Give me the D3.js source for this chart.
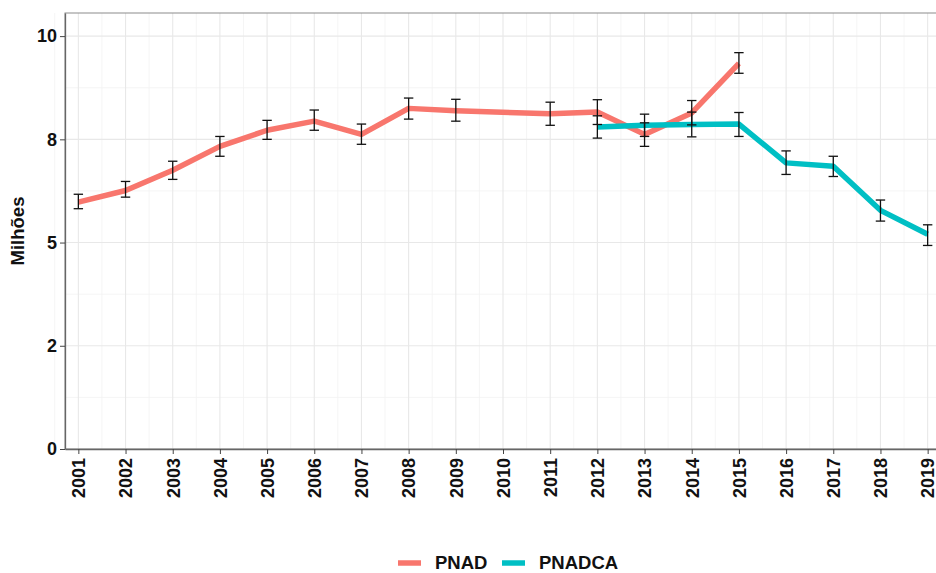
<!DOCTYPE html>
<html>
<head>
<meta charset="utf-8">
<script src="https://cdn.jsdelivr.net/npm/d3@7"></script>
<style>
  body { margin: 0; background: #fff; }
  svg { display: block; font-family: "Liberation Sans", Arial, sans-serif; }
</style>
</head>
<body>
<svg id="chart" width="936" height="573"></svg>
<script>
// valores (milhoes)
const pnadYears  = [2001, 2002, 2003, 2004, 2005, 2006, 2007, 2008, 2009, 2011, 2012, 2013, 2014, 2015];
const pnadValues = [5.98, 6.26, 6.75, 7.33, 7.72, 7.94, 7.62, 8.25, 8.19, 8.12, 8.16, 7.62, 8.14, 9.34];
const pnadLower  = [5.82, 6.10, 6.53, 7.09, 7.50, 7.72, 7.38, 7.99, 7.94, 7.84, 7.86, 7.33, 7.85, 9.10];
const pnadUpper  = [6.17, 6.48, 6.97, 7.57, 7.96, 8.21, 7.87, 8.50, 8.47, 8.40, 8.46, 7.90, 8.44, 9.60];

const pnadcaYears  = [2012, 2013, 2014, 2015, 2016, 2017, 2018, 2019];
const pnadcaValues = [7.80, 7.84, 7.86, 7.87, 6.93, 6.85, 5.78, 5.20];
const pnadcaLower  = [7.53, 7.57, 7.56, 7.57, 6.65, 6.60, 5.52, 4.93];
const pnadcaUpper  = [8.07, 8.11, 8.16, 8.15, 7.22, 7.09, 6.03, 5.43];

const xTicks = d3.range(2001, 2020);
const yTicks = [0, 2.5, 5, 7.5, 10];
const yTickLabels = ["0", "2", "5", "8", "10"];

const seriesNames = ["PNAD", "PNADCA"];
const colors = ["#F8766D", "#00BFC4"];

const svg = d3.select("#chart");
const pLeft = 65, pTop = 13, pBottom = 449, pRight = 941;

const x = d3.scaleLinear().domain([2001 - 0.283, 2019 + 0.283]).range([pLeft, pRight]);
const y = d3.scaleLinear().domain([0, 10.56]).range([pBottom, pTop]);

// grade secundaria
const g = svg.append("g");
g.selectAll(".vminor").data(d3.range(2000.5, 2020, 1)).enter().append("line")
  .attr("x1", d => x(d)).attr("x2", d => x(d)).attr("y1", pTop).attr("y2", pBottom)
  .attr("stroke", "#f3f3f3").attr("stroke-width", 0.8);
g.selectAll(".hminor").data([1.25, 3.75, 6.25, 8.75]).enter().append("line")
  .attr("x1", pLeft).attr("x2", pRight).attr("y1", d => y(d)).attr("y2", d => y(d))
  .attr("stroke", "#f3f3f3").attr("stroke-width", 0.8);
// grade principal
g.selectAll(".vmajor").data(xTicks).enter().append("line")
  .attr("x1", d => x(d)).attr("x2", d => x(d)).attr("y1", pTop).attr("y2", pBottom)
  .attr("stroke", "#e8e8e8").attr("stroke-width", 1.1);
g.selectAll(".hmajor").data(yTicks).enter().append("line")
  .attr("x1", pLeft).attr("x2", pRight).attr("y1", d => y(d)).attr("y2", d => y(d))
  .attr("stroke", "#e8e8e8").attr("stroke-width", 1.1);

// borda do painel
svg.append("rect")
  .attr("x", pLeft).attr("y", pTop).attr("width", pRight - pLeft).attr("height", pBottom - pTop)
  .attr("fill", "none").attr("stroke", "#8c8c8c").attr("stroke-width", 1);

// eixos
const xAxis = d3.axisBottom(x).tickValues(xTicks).tickFormat(d3.format("d")).tickSize(5).tickSizeOuter(0);
const yAxis = d3.axisLeft(y).tickValues(yTicks).tickFormat((d, i) => yTickLabels[i]).tickSize(5).tickSizeOuter(0);

const gx = svg.append("g").attr("transform", "translate(0," + pBottom + ")").call(xAxis);
gx.select(".domain").attr("stroke", "#666").attr("stroke-width", 1.3);
gx.selectAll(".tick line").attr("stroke", "#444").attr("stroke-width", 1);
gx.selectAll("text")
  .attr("transform", "rotate(-90)")
  .attr("x", -9).attr("y", 0).attr("dy", "0.35em")
  .style("text-anchor", "end")
  .style("font-size", "18px").style("font-weight", "bold").attr("fill", "#111");

const gy = svg.append("g").attr("transform", "translate(" + pLeft + ",0)").call(yAxis);
gy.select(".domain").attr("stroke", "#666").attr("stroke-width", 1.3);
gy.selectAll(".tick line").attr("stroke", "#444").attr("stroke-width", 1);
gy.selectAll("text").attr("x", -8)
  .style("font-size", "18px").style("font-weight", "bold").attr("fill", "#111");

svg.append("text")
  .attr("transform", "translate(24," + ((pTop + pBottom) / 2) + ") rotate(-90)")
  .attr("text-anchor", "middle")
  .style("font-size", "18.5px").style("font-weight", "bold").attr("fill", "#111")
  .text("Milhões");

// linhas e barras de erro
const series = [
  { years: pnadYears, values: pnadValues, lower: pnadLower, upper: pnadUpper },
  { years: pnadcaYears, values: pnadcaValues, lower: pnadcaLower, upper: pnadcaUpper }
];

const line = d3.line().x(d => x(d[0])).y(d => y(d[1]));

series.forEach((s, i) => {
  svg.append("path")
    .datum(s.years.map((yr, j) => [yr, s.values[j]]))
    .attr("d", line)
    .attr("fill", "none")
    .attr("stroke", colors[i])
    .attr("stroke-width", 5.5)
    .attr("stroke-linejoin", "round");
});

const cap = 4.7;
series.forEach(s => {
  const eb = svg.append("g").attr("stroke", "#111").attr("stroke-width", 1.3);
  s.years.forEach((yr, j) => {
    const cx = x(yr);
    eb.append("line").attr("x1", cx).attr("x2", cx).attr("y1", y(s.lower[j])).attr("y2", y(s.upper[j]));
    eb.append("line").attr("x1", cx - cap).attr("x2", cx + cap).attr("y1", y(s.lower[j])).attr("y2", y(s.lower[j]));
    eb.append("line").attr("x1", cx - cap).attr("x2", cx + cap).attr("y1", y(s.upper[j])).attr("y2", y(s.upper[j]));
  });
});

// legenda
const legendX = [398, 502];
const legend = svg.append("g");
seriesNames.forEach((name, i) => {
  legend.append("line")
    .attr("x1", legendX[i]).attr("x2", legendX[i] + 23)
    .attr("y1", 563).attr("y2", 563)
    .attr("stroke", colors[i]).attr("stroke-width", 5.5);
  legend.append("text")
    .attr("x", legendX[i] + 37).attr("y", 563).attr("dy", "0.35em")
    .style("font-size", "18.5px").style("font-weight", "bold").attr("fill", "#111")
    .text(name);
});
</script>
</body>
</html>
